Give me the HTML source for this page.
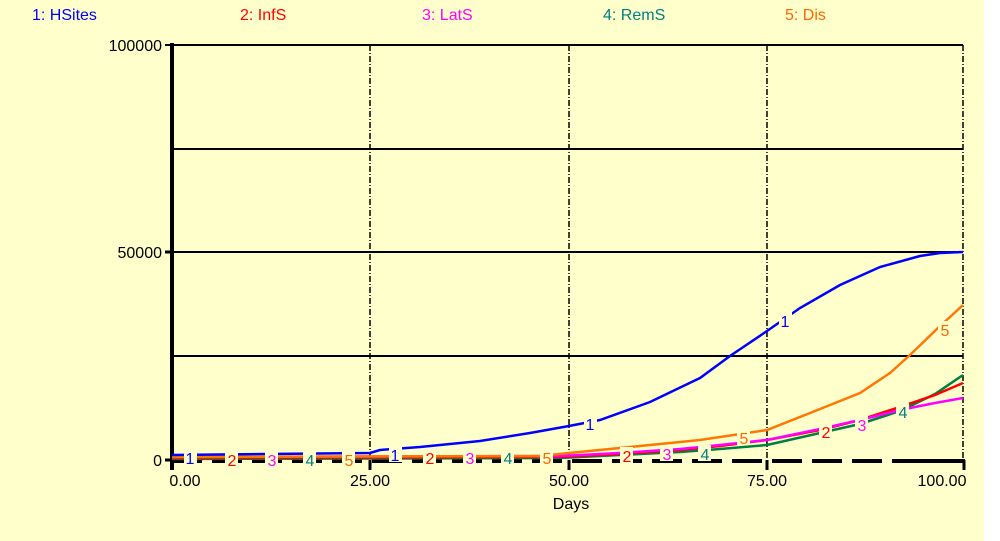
<!DOCTYPE html>
<html><head><meta charset="utf-8"><style>
html,body{margin:0;padding:0;background:#fff}
svg{display:block}
text{font-family:"Liberation Sans",Arial,sans-serif}
</style></head><body>
<svg width="1000" height="541" viewBox="0 0 1000 541" xmlns="http://www.w3.org/2000/svg">
<rect x="0" y="0" width="984" height="541" fill="#FFFFCC"/>
<g font-size="16">
<text x="32" y="20" fill="#0000FF">1: HSites</text>
<text x="240" y="20" fill="#FF0000">2: InfS</text>
<text x="422" y="20" fill="#FF00FF">3: LatS</text>
<text x="603" y="20" fill="#008080">4: RemS</text>
<text x="785" y="20" fill="#FF6600">5: Dis</text>
</g>
<g stroke="#000" stroke-width="2">
<line x1="165" y1="45" x2="963" y2="45"/>
<line x1="172" y1="149" x2="963" y2="149"/>
<line x1="172" y1="252" x2="963" y2="252"/>
<line x1="172" y1="356" x2="963" y2="356"/>
</g>
<g stroke="#000" stroke-width="1.5" stroke-dasharray="6,2,1,2">
<line x1="370" y1="45" x2="370" y2="460"/>
<line x1="569" y1="45" x2="569" y2="460"/>
<line x1="767" y1="45" x2="767" y2="460"/>
<line x1="963" y1="45" x2="963" y2="460"/>
</g>
<line x1="172" y1="43" x2="172" y2="470" stroke="#000" stroke-width="4"/>
<line x1="165" y1="460" x2="172" y2="460" stroke="#000" stroke-width="3"/>
<line x1="165" y1="252" x2="172" y2="252" stroke="#000" stroke-width="3"/>
<line x1="172" y1="461" x2="963" y2="461" stroke="#000" stroke-width="4" stroke-dasharray="30,10"/>
<line x1="900" y1="461" x2="965" y2="461" stroke="#000" stroke-width="4"/>
<g stroke="#000" stroke-width="3">
<line x1="370" y1="460" x2="370" y2="470"/>
<line x1="569" y1="460" x2="569" y2="470"/>
<line x1="767" y1="460" x2="767" y2="470"/>
<line x1="964" y1="460" x2="964" y2="470"/>
</g>
<g font-size="16" fill="#000">
<text x="162" y="51" text-anchor="end">100000</text>
<text x="162" y="258" text-anchor="end">50000</text>
<text x="162" y="466" text-anchor="end">0</text>
<text x="185" y="486" text-anchor="middle">0.00</text>
<text x="370" y="486" text-anchor="middle">25.00</text>
<text x="569" y="486" text-anchor="middle">50.00</text>
<text x="767" y="486" text-anchor="middle">75.00</text>
<text x="942" y="486" text-anchor="middle">100.00</text>
<text x="571" y="509" text-anchor="middle">Days</text>
</g>
<g fill="none" stroke-width="2.5">
<polyline stroke="#008040" points="172,459 560,458 620,455 680,452 720,449 767,445 820,433 860,424 900,411 935,394 963,375"/>
<polyline stroke="#FF0000" points="172,458 560,457 620,454 680,450 720,446 767,440 820,430 860,420 900,407 935,395 963,383"/>
<polyline stroke="#FF00FF" points="172,457 560,456 620,453 680,449 720,445 767,440 820,429 860,420 900,410 935,403 963,398"/>
<polyline stroke="#FF7700" points="172,457 540,456 569,453 620,448 660,444 700,440 767,430 810,413 860,393 890,373 910,355 940,326 950,317 963,305"/>
<polyline stroke="#0000FF" points="172,455 370,453 380,450 420,447 480,441 530,433 569,426 600,420 650,402 700,378 730,356 767,331 800,308 840,285 880,267 920,256 940,253 963,252"/>
</g>
<g font-size="16" text-anchor="middle">
<g fill="#FFFFCC">
<rect x="184" y="449" width="13" height="16"/><rect x="389" y="446" width="13" height="16"/><rect x="584" y="415" width="13" height="16"/><rect x="779" y="312" width="13" height="16"/>
<rect x="225" y="451" width="13" height="16"/><rect x="423" y="449" width="13" height="16"/><rect x="620" y="447" width="13" height="16"/><rect x="819" y="423" width="13" height="16"/>
<rect x="265" y="451" width="13" height="16"/><rect x="463" y="449" width="13" height="16"/><rect x="660" y="445" width="13" height="16"/><rect x="855" y="416" width="13" height="16"/>
<rect x="303" y="451" width="13" height="16"/><rect x="501" y="449" width="13" height="16"/><rect x="698" y="445" width="13" height="16"/><rect x="896" y="403" width="13" height="16"/>
<rect x="342" y="451" width="13" height="16"/><rect x="540" y="449" width="13" height="16"/><rect x="737" y="429" width="13" height="16"/><rect x="938" y="321" width="13" height="16"/>
</g>
<g fill="#0000FF"><text x="190" y="464">1</text><text x="395" y="461">1</text><text x="590" y="430">1</text><text x="785" y="327">1</text></g>
<g fill="#FF0000"><text x="232" y="466">2</text><text x="430" y="464">2</text><text x="627" y="462">2</text><text x="826" y="438">2</text></g>
<g fill="#FF00FF"><text x="272" y="466">3</text><text x="470" y="464">3</text><text x="667" y="460">3</text><text x="862" y="431">3</text></g>
<g fill="#008080"><text x="310" y="466">4</text><text x="508" y="464">4</text><text x="705" y="460">4</text><text x="903" y="418">4</text></g>
<g fill="#FF6600"><text x="349" y="466">5</text><text x="547" y="464">5</text><text x="744" y="444">5</text><text x="945" y="336">5</text></g>
</g>
</svg>
</body></html>
